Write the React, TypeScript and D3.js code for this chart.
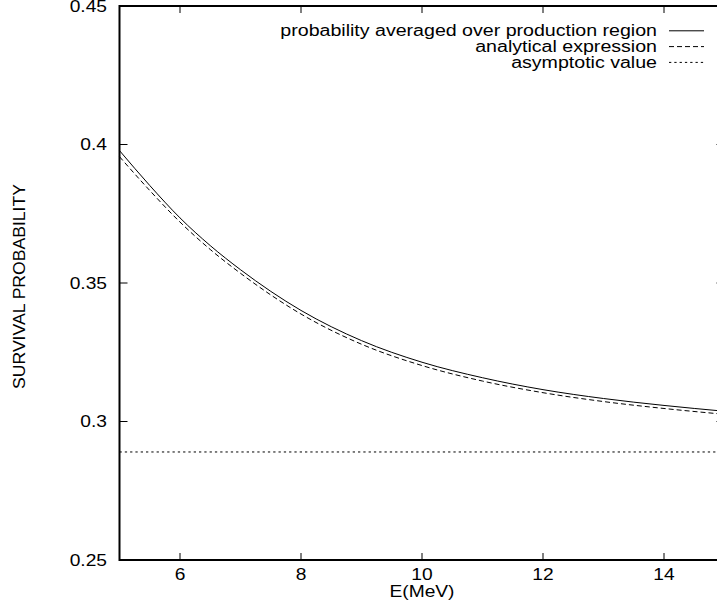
import React from 'react';
import * as d3 from 'd3';

// energies (MeV) at which the curves were read
const energies = [5, 5.5, 6, 6.5, 7, 8, 9, 10, 11, 12, 13, 14, 15];
// probability averaged over production region
const averaged = [0.3978, 0.3852, 0.3735, 0.3635, 0.3548, 0.3401, 0.3292, 0.3214, 0.3158, 0.3115, 0.3083, 0.3058, 0.3037];
// analytical expression
const analytical = [0.3956, 0.3834, 0.372, 0.3621, 0.3535, 0.3388, 0.3279, 0.3202, 0.3146, 0.3104, 0.3072, 0.3047, 0.3026];
const asymptotic = 0.289;

const xTicks = [6, 8, 10, 12, 14];
const yTicks = [0.25, 0.3, 0.35, 0.4, 0.45];
const legendLabels = ['probability averaged over production region', 'analytical expression', 'asymptotic value'];
const legendDash = ['none', '5,3', '2.3,3'];

const W = 717;
const H = 611;
const FONT = '"Liberation Sans", Arial, Helvetica, sans-serif';
const SX = 1.2; // the glyphs in the reference are stretched sideways

export default function App() {
  const x = d3.scaleLinear().domain([5, 15]).range([119.5, 724.5]);
  const y = d3.scaleLinear().domain([0.25, 0.45]).range([560, 6]);
  const [x0, x1] = x.range();
  const [yb, yt] = y.range();

  const line = d3.line<number>()
    .x((_, i) => x(energies[i]))
    .y(d => y(d))
    .curve(d3.curveMonotoneX);

  const label = (tx: number, ty: number, text: string, anchor: string, sx = SX) => (
    <text transform={`translate(${tx},${ty}) scale(${sx},1)`} textAnchor={anchor}
      fontSize={16} fontFamily={FONT} fill="#000">{text}</text>
  );

  return (
    <svg width={W} height={H} style={{ position: 'absolute', left: 0, top: 0, background: '#fff' }}>
      <rect width={W} height={H} fill="#fff" />

      {/* curves */}
      <path d={line(averaged) || ''} fill="none" stroke="#000" strokeWidth={1} />
      <path d={line(analytical) || ''} fill="none" stroke="#000" strokeWidth={1} strokeDasharray="5,3" />
      <line x1={x0} x2={x1} y1={y(asymptotic)} y2={y(asymptotic)} stroke="#000" strokeWidth={1} strokeDasharray="2.3,3" />

      {/* frame */}
      <rect x={x0} y={yt} width={x1 - x0} height={yb - yt} fill="none" stroke="#000" strokeWidth={2} />

      {/* ticks */}
      {xTicks.map(t => (
        <g key={`xt${t}`}>
          <line x1={x(t)} x2={x(t)} y1={yb} y2={yb - 7} stroke="#000" strokeWidth={1} />
          <line x1={x(t)} x2={x(t)} y1={yt} y2={yt + 7} stroke="#000" strokeWidth={1} />
          {label(x(t), 580, String(t), 'middle')}
        </g>
      ))}
      {yTicks.map(t => (
        <g key={`yt${t}`}>
          <line x1={x0} x2={x0 + 8} y1={y(t)} y2={y(t)} stroke="#000" strokeWidth={1} />
          <line x1={x1} x2={x1 - 8} y1={y(t)} y2={y(t)} stroke="#000" strokeWidth={1} />
          {label(107, y(t) + 5.5, String(t), 'end')}
        </g>
      ))}

      {/* axis titles */}
      {label(422, 597, 'E(MeV)', 'middle')}
      <text transform="translate(25,286.5) rotate(-90) scale(1.1,1)" textAnchor="middle"
        fontSize={16} fontFamily={FONT} fill="#000">SURVIVAL PROBABILITY</text>

      {/* legend */}
      {legendLabels.map((l, i) => {
        const by = 36.3 + i * 15.8;
        return (
          <g key={l}>
            {label(657, by, l, 'end', 1.225)}
            <line x1={669} x2={704} y1={by - 5.5} y2={by - 5.5} stroke="#000" strokeWidth={1}
              strokeDasharray={legendDash[i] === 'none' ? undefined : legendDash[i]} />
          </g>
        );
      })}
    </svg>
  );
}
